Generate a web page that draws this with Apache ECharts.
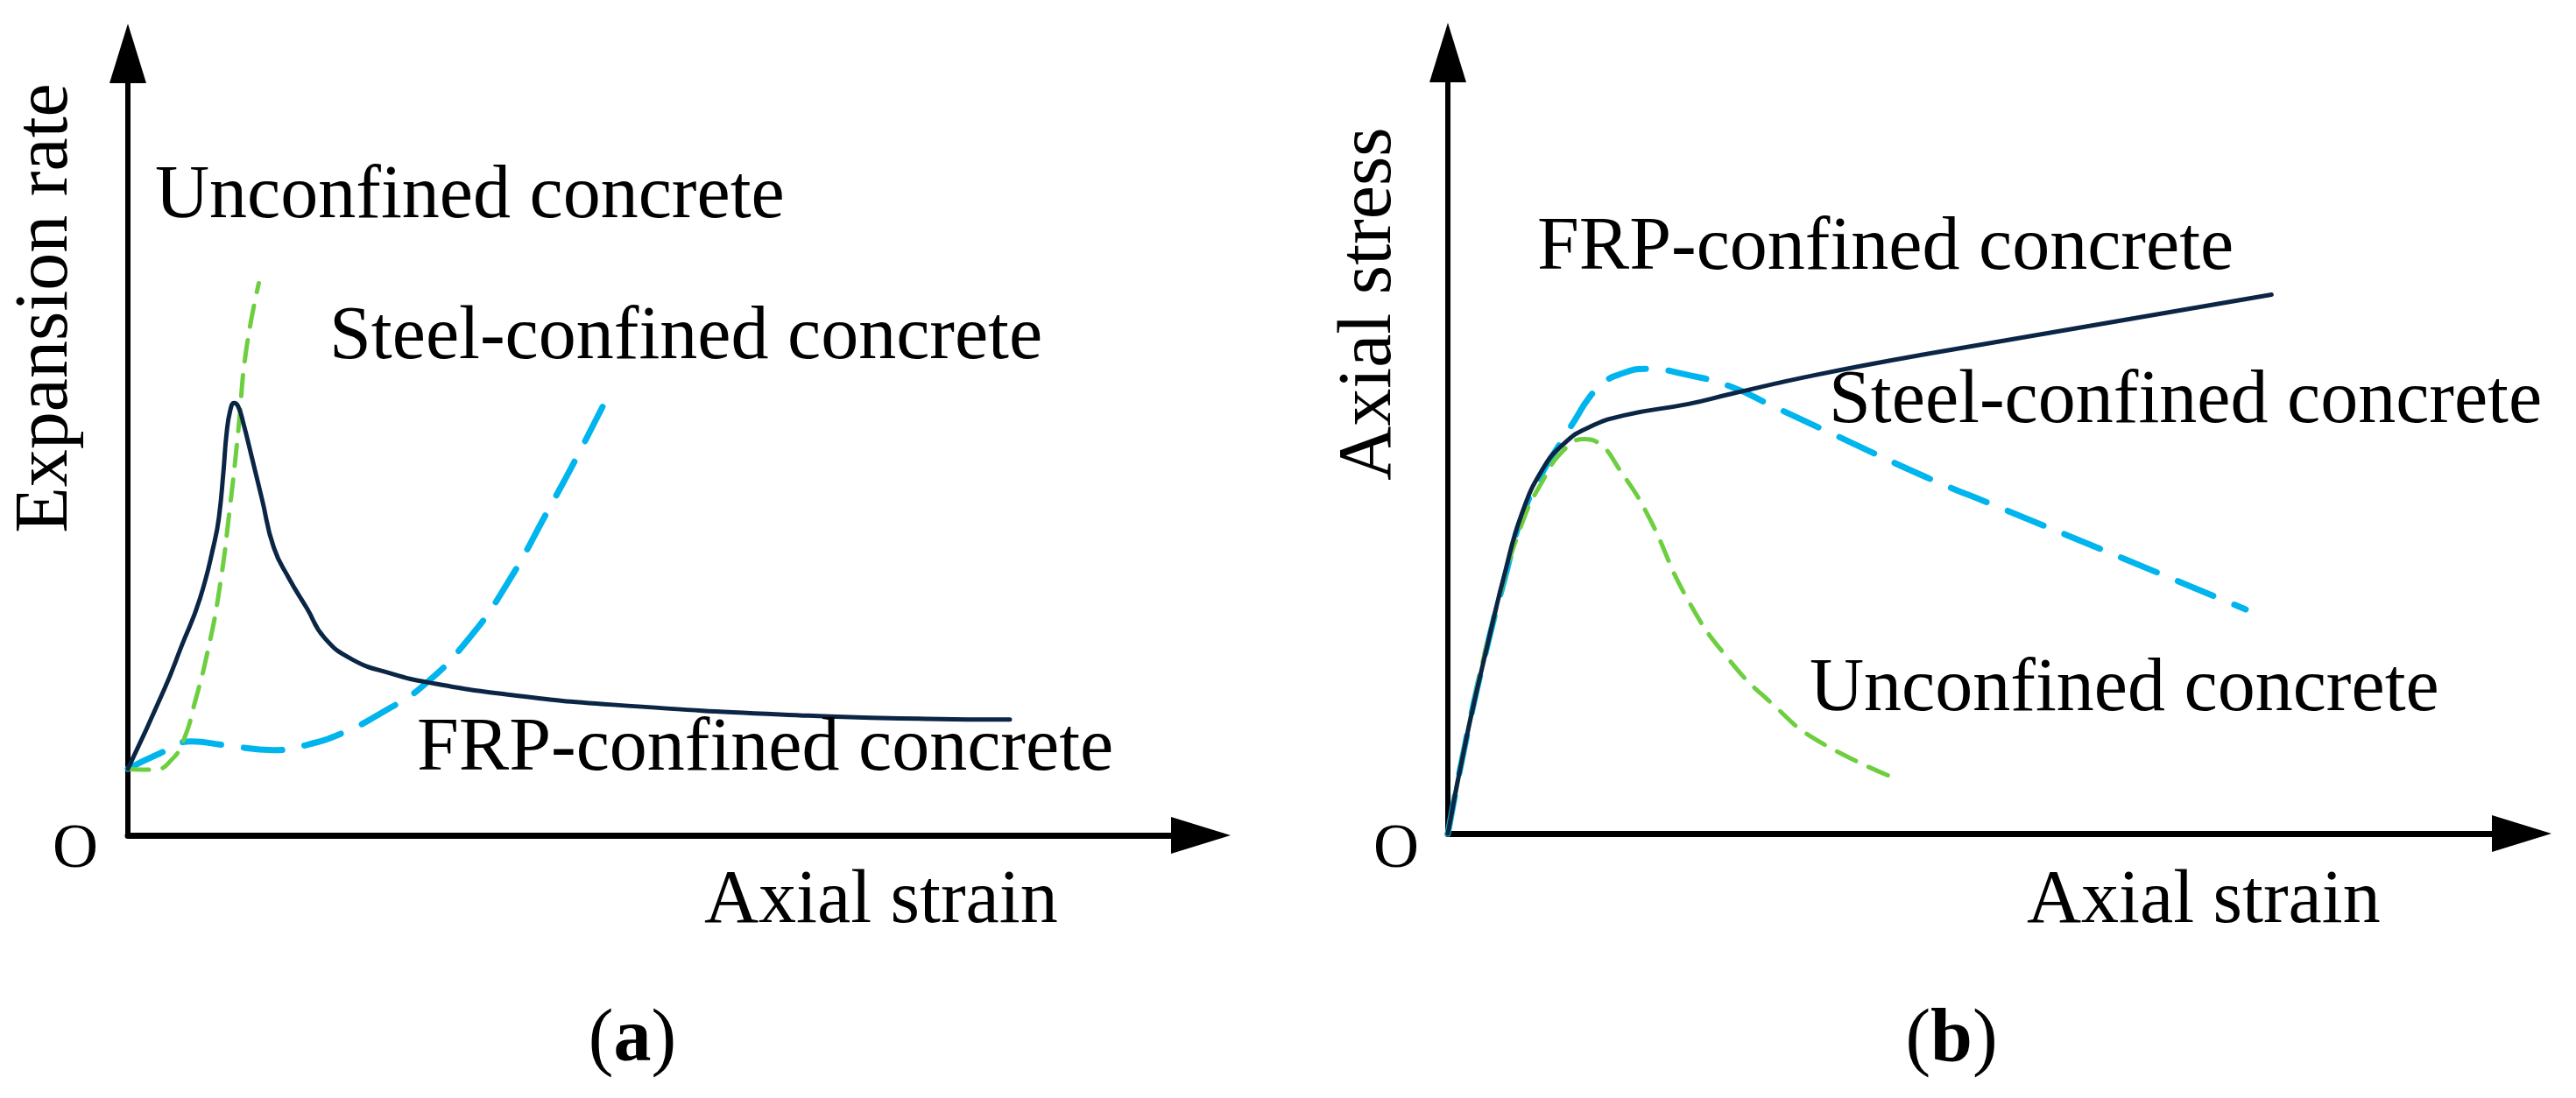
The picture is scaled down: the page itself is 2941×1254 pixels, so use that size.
<!DOCTYPE html>
<html>
<head>
<meta charset="utf-8">
<script src="https://cdn.jsdelivr.net/npm/echarts@6/dist/echarts.min.js"></script>
<style>
html,body{margin:0;padding:0;background:#fff;}
#chart{width:2941px;height:1254px;}
</style>
</head>
<body>
<div id="chart"></div>
<script>
// ---------- Data (schematic units) ----------
// Panel (a): expansion rate vs axial strain
const frpA = [[0,0.85],[0.34,1.87],[0.50,2.42],[0.67,3.02],[0.81,3.77],[0.85,4.08],[0.89,4.64],[0.92,5.14],[0.955,5.44],[0.99,5.53],[1.03,5.48],[1.08,5.25],[1.14,4.92],[1.25,4.30],[1.36,3.68],[1.50,3.29],[1.67,2.90],[1.83,2.53],[2.09,2.25],[2.45,2.07],[2.82,1.95],[3.54,1.80],[4.52,1.67],[6.34,1.53],[7.44,1.49],[8.22,1.48]];
const steelA = [[0,0.85],[0.27,1.03],[0.59,1.20],[0.92,1.15],[1.36,1.09],[1.65,1.15],[2.02,1.32],[2.38,1.58],[2.74,1.90],[3.18,2.52],[3.54,3.23],[3.91,4.14],[4.20,4.88],[4.50,5.69]];
const unconfA = [[0,0.85],[0.13,0.84],[0.25,0.84],[0.41,0.97],[0.52,1.22],[0.63,1.73],[0.74,2.33],[0.85,3.12],[0.955,4.24],[1.03,5.19],[1.10,6.18],[1.22,7.06]];
// Panel (b): axial stress vs axial strain
const frpB = [[0,0],[0.18,1.27],[0.375,2.45],[0.53,3.33],[0.685,4.08],[0.88,4.66],[1.08,4.99],[1.31,5.20],[1.66,5.36],[2.24,5.50],[2.64,5.63],[3.42,5.87],[4.46,6.14],[7.67,6.90]];
const steelB = [[0,0],[0.18,1.27],[0.375,2.45],[0.53,3.27],[0.685,4.04],[0.88,4.62],[1.04,4.98],[1.19,5.31],[1.31,5.57],[1.44,5.76],[1.58,5.87],[1.85,5.95],[2.24,5.87],[2.64,5.72],[3.03,5.47],[3.61,5.10],[4.46,4.56],[5.13,4.18],[6.26,3.54],[7.43,2.87]];
const unconfB = [[0,0],[0.22,1.54],[0.45,2.88],[0.685,3.95],[0.88,4.51],[1.08,4.91],[1.27,5.05],[1.43,4.97],[1.58,4.70],[1.85,4.11],[2.24,2.98],[2.64,2.19],[3.03,1.65],[3.42,1.21],[4.16,0.71]];

const labelsA = ['Unconfined concrete','Steel-confined concrete','FRP-confined concrete'];
const labelsB = ['FRP-confined concrete','Steel-confined concrete','Unconfined concrete'];
const yNames = ['Expansion rate','Axial stress'];
const xName = 'Axial strain';
const originName = 'O';
const panelTags = ['a','b'];

// ---------- Styles ----------
const NAVY = '#0b2545';
const CYAN = '#00b5ee';
const GREEN = '#6dcf40';
const FONT = '"Liberation Serif", "Times New Roman", serif';
const FS = 86;

function axisX(gi){
  return {type:'value', gridIndex:gi, min:0, max:10,
    axisLine:{show:true, symbol:['none','triangle'], symbolSize:[42,68], lineStyle:{color:'#000', width:7}},
    axisTick:{show:false}, axisLabel:{show:false}, splitLine:{show:false}};
}
function axisY(gi){
  return {type:'value', gridIndex:gi, min:0, max:10,
    axisLine:{show:true, onZero:false, symbol:['none','triangle'], symbolSize:[42,68], lineStyle:{color:'#000', width:6}},
    axisTick:{show:false}, axisLabel:{show:false}, splitLine:{show:false}};
}
function line(gi, data, kind){
  const ls = kind==='frp' ? {color:NAVY, width:5, type:'solid', cap:'round', join:'round'}
           : kind==='steel' ? {color:CYAN, width:7, type:[44,26], cap:'round'}
           : {color:GREEN, width:5, type:[24,16], cap:'round'};
  return {type:'line', xAxisIndex:gi, yAxisIndex:gi, data:data, showSymbol:false, symbol:'none',
    smooth:0.5, clip:false, lineStyle:ls, z: kind==='frp'?5:3, silent:true};
}
function txt(x, y, s, opts){
  opts = opts || {};
  return {type:'text', x:x, y:y, rotation:opts.rot||0, z:10, silent:true,
    style:Object.assign({text:s, fontFamily:FONT, fontSize:opts.fs||FS, fill:'#000',
      align:opts.align||'left', verticalAlign:'middle',
      textAlign:opts.align||'left', textVerticalAlign:'middle'}, opts.extra||{})};
}
function tag(x, y, letter){
  return {type:'text', x:x, y:y, z:10, silent:true,
    style:{text:'{n|(}{b|'+letter+'}{n|)}', align:'center', verticalAlign:'middle',
      textAlign:'center', textVerticalAlign:'middle',
      rich:{n:{fontFamily:FONT, fontSize:FS, fill:'#000', fontWeight:'normal'},
            b:{fontFamily:FONT, fontSize:FS, fill:'#000', fontWeight:'bold'}}}};
}

const chart = echarts.init(document.getElementById('chart'), null, {renderer:'canvas'});
chart.setOption({
  animation:false,
  backgroundColor:'#fff',
  grid:[
    {left:146, top:61, right:1570, bottom:300, containLabel:false},
    {left:1653, top:60, right:62, bottom:302, containLabel:false}
  ],
  xAxis:[axisX(0), axisX(1)],
  yAxis:[axisY(0), axisY(1)],
  series:[
    line(0, steelA, 'steel'),
    line(0, unconfA, 'unconf'),
    line(0, frpA, 'frp'),
    line(1, steelB, 'steel'),
    line(1, unconfB, 'unconf'),
    line(1, frpB, 'frp')
  ],
  graphic:[
    txt(177, 225, labelsA[0]),
    txt(376, 386, labelsA[1]),
    txt(476, 856, labelsA[2]),
    txt(804, 1030, xName),
    txt(86, 971, originName, {align:'center', fs:72}),
    txt(53, 352, yNames[0], {align:'center', rot:Math.PI/2}),
    tag(722, 1189, panelTags[0]),

    txt(1755, 284, labelsB[0]),
    txt(2088, 459, labelsB[1]),
    txt(2066, 788, labelsB[2]),
    txt(2314, 1030, xName),
    txt(1594, 971, originName, {align:'center', fs:72}),
    txt(1564, 347, yNames[1], {align:'center', rot:Math.PI/2}),
    tag(2228, 1189, panelTags[1])
  ]
});
</script>
</body>
</html>
